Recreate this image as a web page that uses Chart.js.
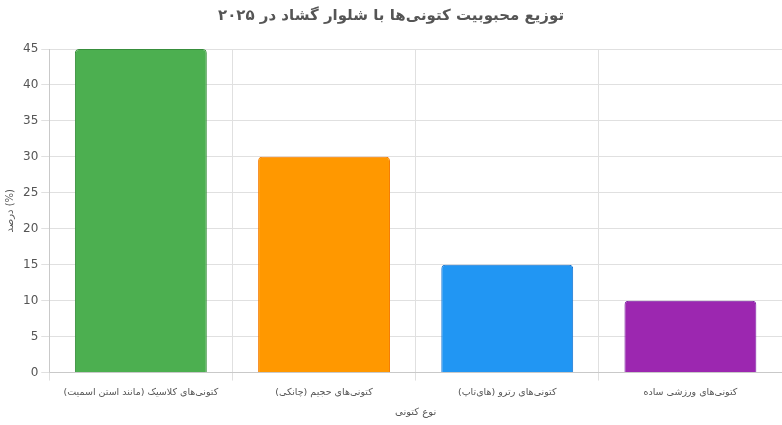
<!DOCTYPE html>
<html><head><meta charset="utf-8">
<script src="https://cdn.jsdelivr.net/npm/chart.js@4"></script>
<style>html,body{margin:0;padding:0;background:#fff}#w{width:782px;height:425px}</style>
</head><body><div id="w"><canvas id="c"></canvas></div>
<script>
const categories = ["کتونی‌های کلاسیک (مانند استن اسمیت)", "کتونی‌های حجیم (چانکی)", "کتونی‌های رترو (های‌تاپ)", "کتونی‌های ورزشی ساده"];
const values = [45, 30, 15, 10];
const fillColors = ["#4CAF50", "#FF9800", "#2196F3", "#9C27B0"];
const borderColors = ["#388E3C", "#F57C00", "#1976D2", "#7B1FA2"];
const titleText = "توزیع محبوبیت کتونی‌ها با شلوار گشاد در ۲۰۲۵";
const xTitle = "نوع کتونی";
const yTitle = "درصد (%)";
Chart.defaults.font.family = "'DejaVu Sans', Arial, sans-serif";
new Chart(document.getElementById('c'), {
  type: 'bar',
  data: { labels: categories, datasets: [{ data: values, backgroundColor: fillColors, borderColor: borderColors, borderWidth: 1, borderRadius: 4 }] },
  options: {
    responsive: true, maintainAspectRatio: false, animation: false,
    layout: { padding: { left: 0, right: 0, top: 5, bottom: 3 } },
    plugins: {
      legend: { display: false },
      title: { display: true, text: titleText, color: '#555', font: { size: 15, weight: 'bold' }, padding: { top: 2, bottom: 24 } }
    },
    scales: {
      x: { grid: { color: '#e0e0e0' }, ticks: { color: '#555', font: { size: 9.5 }, maxRotation: 0, autoSkip: false, padding: 6 }, title: { display: true, text: xTitle, color: '#555', font: { size: 10 }, padding: { top: 2 } } },
      y: { min: 0, max: 45, grid: { color: '#e0e0e0' }, ticks: { stepSize: 5, color: '#555', font: { size: 12 } }, title: { display: true, text: yTitle, color: '#555', font: { size: 10 } } }
    }
  }
});
</script></body></html>
